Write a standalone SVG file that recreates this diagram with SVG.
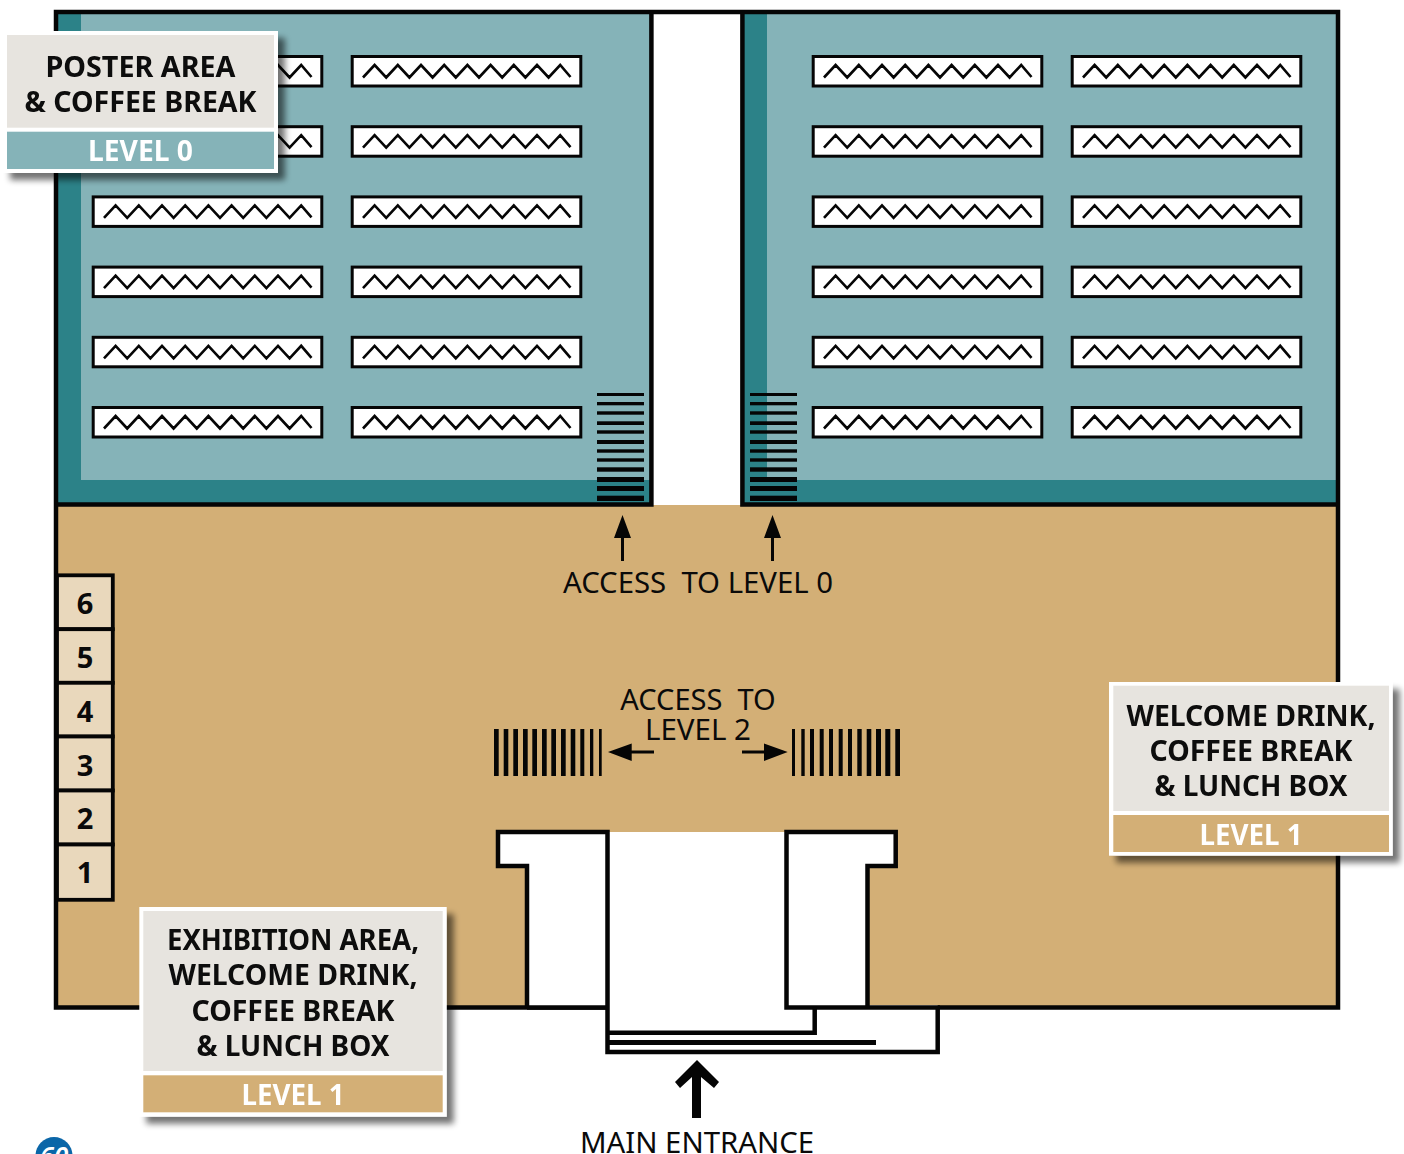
<svg xmlns="http://www.w3.org/2000/svg" xmlns:xlink="http://www.w3.org/1999/xlink" width="1404" height="1154" viewBox="0 0 1404 1154">
<style>
text{font-family:"Noto Sans","Open Sans","Liberation Sans",sans-serif;text-anchor:middle;white-space:pre}
.lbl{font-size:29px;font-weight:400;fill:#0a0a0a}
.head{font-size:28.5px;font-weight:700;fill:#0a0a0a}
.lvl{font-size:28.5px;font-weight:700;fill:#fff}
.num{font-size:29px;font-weight:700;fill:#0a0a0a}
.wall{fill:none;stroke:#050505;stroke-width:4.5;stroke-linejoin:miter}
.k{fill:#050505}
.paper{fill:#e7e4df}
.card{fill:#fff}
.box{fill:#e9d8bc;stroke:#050505;stroke-width:3.8}
</style>
<defs>
<filter id="shadow" x="-10%" y="-10%" width="125%" height="125%">
<feGaussianBlur in="SourceAlpha" stdDeviation="3"/>
<feOffset dx="7" dy="7"/>
<feComponentTransfer><feFuncA type="linear" slope="0.55"/></feComponentTransfer>
<feMerge><feMergeNode/><feMergeNode in="SourceGraphic"/></feMerge>
</filter>
<g id="poster">
<rect x="93.2" y="56.5" width="228.6" height="29.5" fill="#fff" stroke="#050505" stroke-width="3"/>
<polyline points="104,77.5 115.6,65 127.2,77.5 138.8,65 150.4,77.5 162,65 173.6,77.5 185.2,65 196.8,77.5 208.4,65 220,77.5 231.6,65 243.2,77.5 254.8,65 266.4,77.5 278,65 289.6,77.5 301.2,65 311.5,77" fill="none" stroke="#050505" stroke-width="2.6"/>
</g>
<g id="col">
<use xlink:href="#poster" href="#poster"/>
<use xlink:href="#poster" href="#poster" y="70.2"/>
<use xlink:href="#poster" href="#poster" y="140.4"/>
<use xlink:href="#poster" href="#poster" y="210.6"/>
<use xlink:href="#poster" href="#poster" y="280.8"/>
<use xlink:href="#poster" href="#poster" y="351"/>
</g>
<g id="stairsH">
<rect x="0" y="393" width="47" height="3"/><rect x="0" y="402" width="47" height="3.3"/><rect x="0" y="411.3" width="47" height="3.4"/><rect x="0" y="421.3" width="47" height="3.7"/><rect x="0" y="430.3" width="47" height="3.4"/><rect x="0" y="440" width="47" height="4"/><rect x="0" y="449.3" width="47" height="3.4"/><rect x="0" y="458.3" width="47" height="3.4"/><rect x="0" y="467.3" width="47" height="4.4"/><rect x="0" y="477" width="47" height="5"/><rect x="0" y="486" width="47" height="5"/><rect x="0" y="495.7" width="47" height="5.3"/>
</g>
<g id="upArrow">
<polygon points="0,515 8.5,538 1.5,538 1.5,561 -1.5,561 -1.5,538 -8.5,538"/>
</g>
</defs>

<g id="level-0-left">
<rect x="56" y="12" width="596" height="493" fill="#2c8288"/>
<rect x="81" y="14" width="569" height="466" fill="#85b3b8"/>
</g>
<g id="level-0-right">
<rect x="742" y="12" width="596" height="493" fill="#2c8288"/>
<rect x="767" y="14" width="569" height="466" fill="#85b3b8"/>
</g>
<g id="level-1-floor">
<rect x="56" y="505" width="1282" height="503" fill="#d3af76"/>
</g>
<g id="posters-left">
<use xlink:href="#col" href="#col"/>
<use xlink:href="#col" href="#col" x="259"/>
</g>
<g id="posters-right">
<use xlink:href="#col" href="#col" x="720"/>
<use xlink:href="#col" href="#col" x="979"/>
</g>
<g id="stairs-level-0" class="k">
<use xlink:href="#stairsH" href="#stairsH" x="597"/>
<use xlink:href="#stairsH" href="#stairsH" x="750"/>
</g>
<g id="walls">
<rect x="653" y="14" width="88" height="491" fill="#fff"/>
<path class="wall" d="M56,505 V12 H1338 V1007.5 H56 V505 M56,504.5 H651.400 V12 M742.400,12 V504.5 H1338"/>
</g>
<g id="entrance">
<rect x="609" y="832" width="176" height="218" fill="#fff"/>
<path d="M527,1006 V866 H498 V832 H607.5 V1006Z" fill="#fff"/>
<path d="M786.5,1006 V832 H895.7 V866 H867.5 V1006Z" fill="#fff"/>
<path d="M607.5,1005 H937.7 V1052 H607.5Z" fill="#fff"/>
<path class="wall" d="M527,1007.5 V866 H498 V832 H607.5 V1052 H937.7 V1007.5 H786.5 V832 H895.7 V866 H867.5 V1007.5"/>
<path class="wall" d="M527,1007.5 H607.5"/>
<path class="wall" d="M607.5,1032.8 H814.7 V1007.5"/>
<path class="wall" style="stroke-width:5" d="M607.5,1042.5 H876"/>
</g>
<g id="stairs-level-2" class="k">
<rect x="494" y="729" width="4.7" height="47"/><rect x="503.7" y="729" width="4.6" height="47"/><rect x="513.3" y="729" width="4.7" height="47"/><rect x="523" y="729" width="4.7" height="47"/><rect x="532.3" y="729" width="4.7" height="47"/><rect x="542" y="729" width="4.7" height="47"/><rect x="551.3" y="729" width="4.7" height="47"/><rect x="561" y="729" width="4.7" height="47"/><rect x="570.7" y="729" width="4.6" height="47"/><rect x="580.3" y="729" width="4" height="47"/><rect x="590" y="729" width="3.3" height="47"/><rect x="599" y="729" width="2.7" height="47"/>
<rect x="792" y="729" width="3" height="47"/><rect x="801.3" y="729" width="3.4" height="47"/><rect x="810" y="729" width="4" height="47"/><rect x="819.7" y="729" width="4" height="47"/><rect x="829" y="729" width="4" height="47"/><rect x="838.7" y="729" width="4" height="47"/><rect x="848" y="729" width="4" height="47"/><rect x="857.3" y="729" width="4.4" height="47"/><rect x="866.7" y="729" width="4.6" height="47"/><rect x="876" y="729" width="5" height="47"/><rect x="885.3" y="729" width="5" height="47"/><rect x="895.3" y="729" width="4.7" height="47"/>
</g>
<g id="connectors" class="k">
<use xlink:href="#upArrow" href="#upArrow" x="622.5"/>
<use xlink:href="#upArrow" href="#upArrow" x="772.5"/>
<polygon points="608,752 631.7,743.5 631.7,750.5 654,750.5 654,753.5 631.7,753.5 631.7,761"/>
<polygon points="787.7,752 764,743.5 764,750.5 742,750.5 742,753.5 764,753.5 764,761"/>
<polygon points="697,1060 719,1082 714,1088 701,1077 701,1118 692,1118 692,1077 680,1088 675,1082"/>
</g>
<g id="rooms">
<g id="room-6"><rect class="box" x="57" y="575.3" width="55.8" height="53.9"/><text class="num" x="85" y="614">6</text></g>
<g id="room-5"><rect class="box" x="57" y="629.2" width="55.8" height="53.6"/><text class="num" x="85" y="668">5</text></g>
<g id="room-4"><rect class="box" x="57" y="682.8" width="55.8" height="53.7"/><text class="num" x="85" y="722">4</text></g>
<g id="room-3"><rect class="box" x="57" y="736.5" width="55.8" height="54"/><text class="num" x="85" y="776">3</text></g>
<g id="room-2"><rect class="box" x="57" y="790.5" width="55.8" height="54"/><text class="num" x="85" y="829">2</text></g>
<g id="room-1"><rect class="box" x="57" y="844.5" width="55.8" height="55.3"/><text class="num" x="85" y="883">1</text></g>
</g>
<g id="labels">
<text class="lbl" x="698" y="593" xml:space="preserve" textLength="270" lengthAdjust="spacingAndGlyphs">ACCESS  TO LEVEL 0</text>
<text class="lbl" x="698" y="710" xml:space="preserve">ACCESS  TO</text>
<text class="lbl" x="698" y="740" textLength="106" lengthAdjust="spacingAndGlyphs">LEVEL 2</text>
<text class="lbl" x="697" y="1153" textLength="234" lengthAdjust="spacingAndGlyphs">MAIN ENTRANCE</text>
</g>
<g id="callout-level-0" filter="url(#shadow)">
<rect class="card" x="3" y="31" width="275" height="142"/>
<rect class="paper" x="7" y="35" width="267" height="92.7"/>
<rect x="7" y="131.7" width="267" height="37.3" fill="#85b3b8"/>
<text class="head" x="140.500" y="77" textLength="190" lengthAdjust="spacingAndGlyphs">POSTER AREA</text>
<text class="head" x="140.500" y="112" textLength="232" lengthAdjust="spacingAndGlyphs">&amp; COFFEE BREAK</text>
<text class="lvl" x="140.500" y="161" textLength="105" lengthAdjust="spacingAndGlyphs">LEVEL 0</text>
</g>
<g id="callout-exhibition" filter="url(#shadow)">
<rect class="card" x="139.300" y="907" width="307.400" height="209.700"/>
<rect class="paper" x="143.300" y="911" width="299.400" height="160"/>
<rect x="143.300" y="1075.300" width="299.400" height="37" fill="#d3af76"/>
<text class="head" x="293" y="950" textLength="252" lengthAdjust="spacingAndGlyphs">EXHIBITION AREA,</text>
<text class="head" x="293" y="985" textLength="249" lengthAdjust="spacingAndGlyphs">WELCOME DRINK,</text>
<text class="head" x="293" y="1021" textLength="203" lengthAdjust="spacingAndGlyphs">COFFEE BREAK</text>
<text class="head" x="293" y="1056" textLength="193" lengthAdjust="spacingAndGlyphs">&amp; LUNCH BOX</text>
<text class="lvl" x="293" y="1105" textLength="103" lengthAdjust="spacingAndGlyphs">LEVEL 1</text>
</g>
<g id="callout-welcome" filter="url(#shadow)">
<rect class="card" x="1109" y="682" width="283.700" height="173.700"/>
<rect class="paper" x="1113.300" y="685.700" width="275.700" height="125.300"/>
<rect x="1113.300" y="815" width="275.700" height="37" fill="#d3af76"/>
<text class="head" x="1251" y="726" textLength="249" lengthAdjust="spacingAndGlyphs">WELCOME DRINK,</text>
<text class="head" x="1251" y="761" textLength="203" lengthAdjust="spacingAndGlyphs">COFFEE BREAK</text>
<text class="head" x="1251" y="796" textLength="193" lengthAdjust="spacingAndGlyphs">&amp; LUNCH BOX</text>
<text class="lvl" x="1251" y="845" textLength="103" lengthAdjust="spacingAndGlyphs">LEVEL 1</text>
</g>
<g id="page-number">
<circle cx="54" cy="1155.500" r="18.500" fill="#0a66a8"/>
<text x="54" y="1165" style="font-size:26px;font-weight:600;font-style:italic;fill:#fff">60</text>
</g>
</svg>
